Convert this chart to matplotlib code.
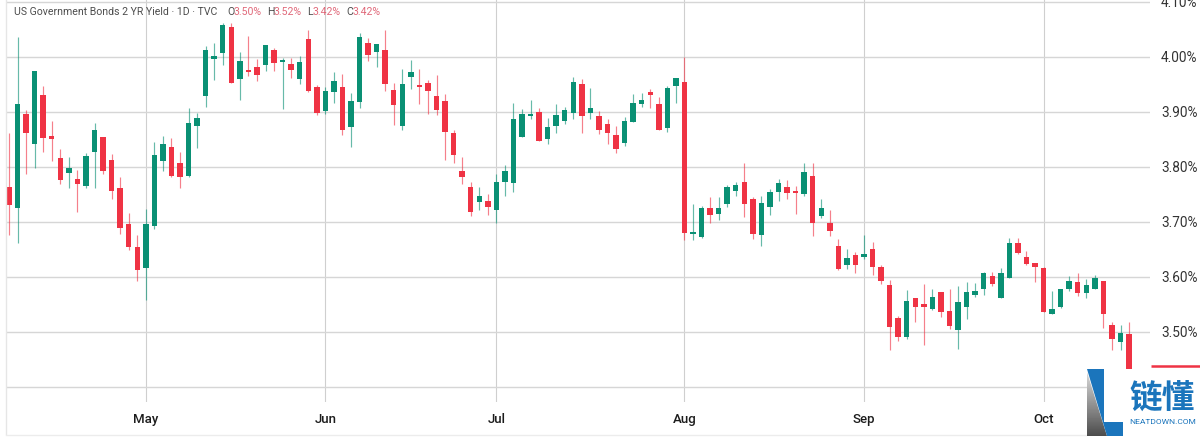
import numpy as np
import matplotlib
matplotlib.use("Agg")
import matplotlib.pyplot as plt
from matplotlib.patches import Polygon, Rectangle

# daily OHLC of the 2 year yield
opens = [3.763, 3.725, 3.896, 3.842, 3.930, 3.856, 3.816, 3.789, 3.779, 3.765,
         3.827, 3.854, 3.813, 3.762, 3.696, 3.654, 3.617, 3.692, 3.810, 3.836,
         3.807, 3.784, 3.875, 3.929, 3.996, 4.008, 4.054, 3.960, 3.976, 3.981,
         3.986, 4.013, 3.991, 3.988, 3.960, 4.032, 3.945, 3.902, 3.936, 3.946,
         3.873, 3.918, 4.025, 4.009, 4.013, 3.940, 3.874, 3.964, 3.948, 3.953,
         3.929, 3.920, 3.862, 3.792, 3.764, 3.736, 3.739, 3.722, 3.772, 3.770,
         3.855, 3.893, 3.900, 3.851, 3.875, 3.883, 3.899, 3.951, 3.898, 3.893,
         3.878, 3.859, 3.844, 3.882, 3.915, 3.936, 3.915, 3.870, 3.948, 3.955,
         3.679, 3.672, 3.725, 3.715, 3.733, 3.756, 3.773, 3.742, 3.676, 3.728,
         3.755, 3.764, 3.757, 3.750, 3.784, 3.710, 3.699, 3.656, 3.622, 3.640,
         3.636, 3.650, 3.619, 3.585, 3.525, 3.490, 3.561, 3.550, 3.542, 3.573,
         3.538, 3.504, 3.546, 3.568, 3.579, 3.602, 3.561, 3.599, 3.661, 3.636,
         3.625, 3.616, 3.532, 3.545, 3.579, 3.591, 3.571, 3.579, 3.593, 3.512,
         3.481, 3.496]
closes = [3.730, 3.914, 3.861, 3.975, 3.852, 3.850, 3.776, 3.799, 3.769, 3.820,
          3.868, 3.792, 3.756, 3.689, 3.655, 3.613, 3.696, 3.822, 3.841, 3.784,
          3.782, 3.880, 3.889, 4.012, 4.001, 4.058, 3.953, 3.993, 3.972, 3.968,
          4.022, 3.989, 3.993, 3.976, 3.991, 3.938, 3.898, 3.939, 3.956, 3.868,
          3.920, 4.036, 4.004, 4.024, 3.950, 3.912, 3.950, 3.973, 3.946, 3.939,
          3.904, 3.863, 3.821, 3.781, 3.719, 3.747, 3.727, 3.773, 3.792, 3.887,
          3.897, 3.897, 3.848, 3.872, 3.894, 3.904, 3.954, 3.893, 3.907, 3.868,
          3.861, 3.832, 3.884, 3.916, 3.922, 3.930, 3.868, 3.944, 3.961, 3.680,
          3.680, 3.726, 3.713, 3.725, 3.763, 3.767, 3.733, 3.679, 3.735, 3.755,
          3.770, 3.753, 3.752, 3.791, 3.698, 3.725, 3.683, 3.615, 3.635, 3.622,
          3.642, 3.619, 3.593, 3.510, 3.490, 3.557, 3.545, 3.545, 3.563, 3.537,
          3.511, 3.554, 3.573, 3.575, 3.607, 3.588, 3.607, 3.662, 3.644, 3.624,
          3.618, 3.536, 3.542, 3.578, 3.593, 3.571, 3.585, 3.599, 3.532, 3.487,
          3.499, 3.420]
highs = [3.861, 4.036, 3.904, 3.975, 3.948, 3.883, 3.832, 3.819, 3.794, 3.826,
         3.880, 3.855, 3.823, 3.782, 3.716, 3.676, 3.723, 3.845, 3.857, 3.853,
         3.828, 3.907, 3.899, 4.020, 4.026, 4.062, 4.061, 4.010, 4.038, 3.996,
         4.022, 4.017, 3.999, 3.999, 4.002, 4.050, 3.949, 3.945, 3.973, 3.969,
         3.934, 4.043, 4.035, 4.024, 4.050, 3.952, 3.979, 3.995, 3.978, 3.959,
         3.967, 3.933, 3.867, 3.818, 3.772, 3.764, 3.751, 3.787, 3.804, 3.916,
         3.905, 3.921, 3.908, 3.890, 3.915, 3.910, 3.963, 3.960, 3.944, 3.902,
         3.887, 3.875, 3.891, 3.933, 3.935, 3.941, 3.927, 3.947, 3.962, 4.000,
         3.732, 3.730, 3.745, 3.745, 3.767, 3.773, 3.807, 3.745, 3.748, 3.760,
         3.779, 3.776, 3.766, 3.808, 3.807, 3.741, 3.721, 3.670, 3.651, 3.645,
         3.677, 3.663, 3.622, 3.595, 3.530, 3.576, 3.562, 3.587, 3.578, 3.573,
         3.579, 3.583, 3.591, 3.590, 3.609, 3.609, 3.616, 3.671, 3.671, 3.647,
         3.625, 3.619, 3.575, 3.579, 3.602, 3.607, 3.596, 3.604, 3.593, 3.518,
         3.513, 3.518]
lows = [3.676, 3.661, 3.787, 3.798, 3.827, 3.811, 3.770, 3.761, 3.719, 3.761,
        3.762, 3.787, 3.742, 3.678, 3.650, 3.592, 3.559, 3.687, 3.792, 3.782,
        3.761, 3.781, 3.835, 3.910, 3.959, 3.985, 3.953, 3.922, 3.965, 3.956,
        3.975, 3.975, 3.905, 3.962, 3.951, 3.936, 3.894, 3.896, 3.916, 3.858,
        3.836, 3.908, 3.993, 3.982, 3.939, 3.876, 3.867, 3.941, 3.915, 3.896,
        3.895, 3.812, 3.807, 3.770, 3.711, 3.722, 3.713, 3.698, 3.748, 3.755,
        3.855, 3.887, 3.848, 3.841, 3.862, 3.879, 3.887, 3.861, 3.887, 3.860,
        3.841, 3.825, 3.839, 3.882, 3.910, 3.908, 3.868, 3.864, 3.916, 3.668,
        3.667, 3.671, 3.698, 3.704, 3.728, 3.747, 3.710, 3.670, 3.657, 3.712,
        3.739, 3.742, 3.715, 3.748, 3.675, 3.707, 3.675, 3.613, 3.615, 3.607,
        3.632, 3.604, 3.588, 3.468, 3.483, 3.488, 3.518, 3.477, 3.540, 3.528,
        3.505, 3.470, 3.524, 3.563, 3.567, 3.584, 3.561, 3.599, 3.641, 3.622,
        3.591, 3.536, 3.532, 3.544, 3.574, 3.566, 3.562, 3.579, 3.507, 3.468,
        3.468, 3.420]

months = ["May", "Jun", "Jul", "Aug", "Sep", "Oct"]
month_idx = [16, 37, 57, 79, 100, 121]
price_ticks = [3.40, 3.50, 3.60, 3.70, 3.80, 3.90, 4.00, 4.10]
# the 3.40% label sits under the watermark in the original
price_labels = ["", "3.50%", "3.60%", "3.70%", "3.80%", "3.90%", "4.00%", "4.10%"]

GREEN = "#0a9074"
RED = "#ef3344"
W, H = 1200, 438

plt.rcParams["font.family"] = ["Roboto", "DejaVu Sans"]
fig = plt.figure(figsize=(W / 100, H / 100), dpi=100)

# main chart, placed on the pixel box of the original
ax = fig.add_axes([7 / W, 1 - 402 / H, (1150 - 7) / W, 402 / H])
ax.set_xlim(-0.234, 133.45)
ax.set_ylim(4.00 - (402 - 57) / 550, 4.00 + 57 / 550)

for s in ax.spines.values():
    s.set_visible(False)
ax.set_axisbelow(True)
ax.grid(axis="y", color="#d6d6d6", lw=1.0)
ax.grid(axis="x", color="#cfcfcf", lw=0.8)

ax.yaxis.tick_right()
ax.set_yticks(price_ticks)
ax.set_yticklabels(price_labels, fontsize=9.8, color="#333333")
ax.set_xticks(month_idx)
ax.set_xticklabels(months, fontsize=9.5, color="#1c1c1c", fontweight="medium")
ax.tick_params(axis="y", length=0, pad=8)
ax.tick_params(axis="x", length=0, pad=8)

x = np.arange(len(opens))
opens_a, closes_a = np.array(opens), np.array(closes)
colors = [GREEN if c >= o else RED for o, c in zip(opens, closes)]
ax.vlines(x, lows, highs, colors=colors, lw=0.85, alpha=0.62, zorder=2)
body_h = np.abs(closes_a - opens_a)
body_h = np.maximum(body_h, 0.003)
ax.bar(x, body_h, bottom=np.minimum(opens_a, closes_a), width=0.64, color=colors, lw=0, zorder=3)

# overlay in pixel coordinates for header, frame and logo
ov = fig.add_axes([0, 0, 1, 1], facecolor="none")
ov.set_xlim(0, W)
ov.set_ylim(H, 0)
ov.axis("off")

ov.plot([6, 6], [0, 434], color="#e6e6e6", lw=1)
ov.plot([6, 1200], [434.5, 434.5], color="#ececec", lw=1)
ov.plot([1151, 1200], [366, 366], color=RED, lw=1.8, solid_capstyle="butt")

HDR = "#4d4d4d"
HDR_RED = "#e0697a"
header = [
    (14, "US Government Bonds 2 YR Yield · 1D · TVC", HDR),
    (227, "O", HDR), (234, "3.50%", HDR_RED),
    (267, "H", HDR), (274, "3.52%", HDR_RED),
    (307, "L", HDR), (313, "3.42%", HDR_RED),
    (346, "C", HDR), (353, "3.42%", HDR_RED),
]
for hx, txt, col in header:
    ov.text(hx, 12, txt, color=col, fontsize=7.6, va="center", ha="left")

# watermark
BLUE = "#1b75bc"
ov.add_patch(Rectangle((1087, 369), 113, 69, color="white", lw=0, zorder=5))
grad = np.linspace(0.85, 0.3, 64).reshape(-1, 1)
im = ov.imshow(grad, extent=(1087, 1107, 436, 372), cmap="gray", vmin=0, vmax=1,
               aspect="auto", zorder=6)
tri = Polygon([(1087, 372), (1107, 436), (1087, 436)], transform=ov.transData, fc="none", lw=0)
ov.add_patch(tri)
im.set_clip_path(tri)
ov.set_xlim(0, W)
ov.set_ylim(H, 0)
ov.add_patch(Polygon([(1087, 369), (1104, 369), (1104, 422), (1123, 422), (1123, 436),
                      (1107, 436)], fc=BLUE, lw=0, zorder=7))
ov.text(1162, 398, "链懂", color=BLUE, fontsize=23.5, fontweight="bold", ha="center", va="center",
        family=["Noto Sans CJK SC", "DejaVu Sans"], zorder=7)
ov.text(1163, 421.5, "NEATDOWN.COM", color=BLUE, fontsize=6, ha="center", va="center", zorder=7)

fig.savefig("out.png", dpi=100)
